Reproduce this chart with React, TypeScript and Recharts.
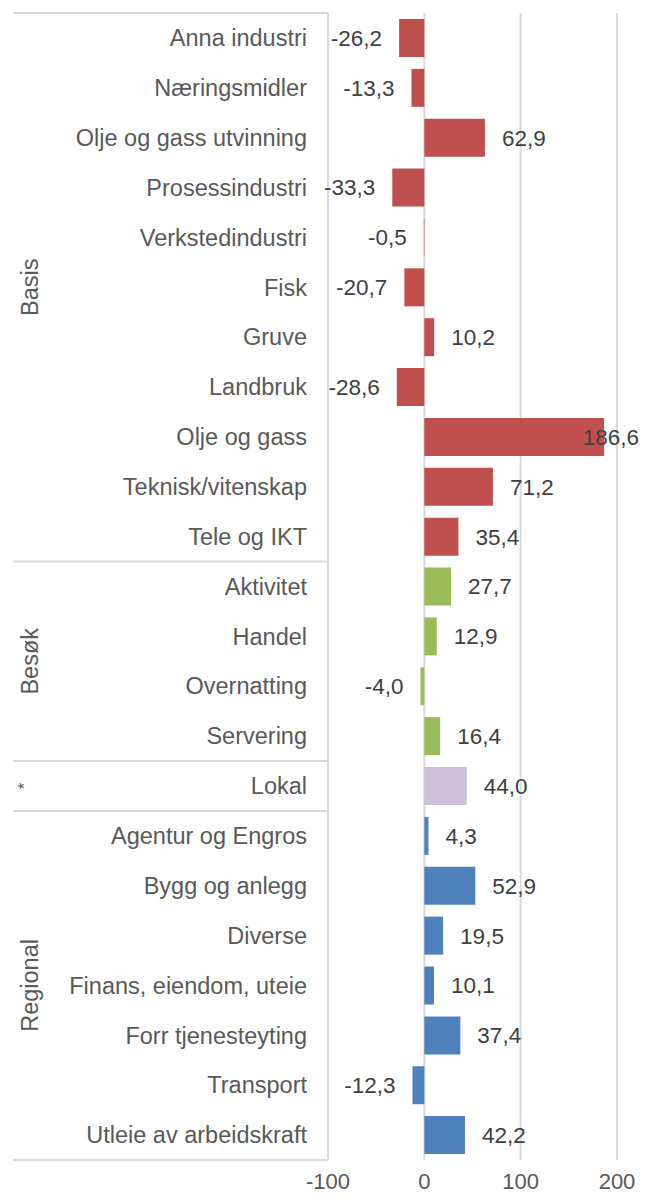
import { BarChart, Bar, XAxis, YAxis, CartesianGrid, Cell, LabelList } from 'recharts';

const categories = [
  'Anna industri',
  'Næringsmidler',
  'Olje og gass utvinning',
  'Prosessindustri',
  'Verkstedindustri',
  'Fisk',
  'Gruve',
  'Landbruk',
  'Olje og gass',
  'Teknisk/vitenskap',
  'Tele og IKT',
  'Aktivitet',
  'Handel',
  'Overnatting',
  'Servering',
  'Lokal',
  'Agentur og Engros',
  'Bygg og anlegg',
  'Diverse',
  'Finans, eiendom, uteie',
  'Forr tjenesteyting',
  'Transport',
  'Utleie av arbeidskraft',
];

const values = [
  -26.2, -13.3, 62.9, -33.3, -0.5, -20.7, 10.2, -28.6, 186.6, 71.2, 35.4,
  27.7, 12.9, -4.0, 16.4,
  44.0,
  4.3, 52.9, 19.5, 10.1, 37.4, -12.3, 42.2,
];

const groupNames = ['Basis', 'Besøk', '*', 'Regional'];
const groupSizes = [11, 4, 1, 7];
const groupColors = ['#C0504D', '#9BBB59', '#CCC1DA', '#4F81BD'];

const xTicks = [-100, 0, 100, 200];

const W = 647;
const H = 1198;
const TOP = 13;
const BOTTOM = 38;
const LEFT = 328;
const RIGHT = 30;
const FRAME_LEFT = 13;
const FONT = '"Liberation Sans", Arial, sans-serif';
const TEXT = '#595959';
const LABEL = '#404040';
const GRID = '#D9D9D9';
const CAT_SIZE = 23.5;
const VAL_SIZE = 22.5;
const TICK_SIZE = 22;

const groupOf = (i: number) => {
  let acc = 0;
  for (let g = 0; g < groupSizes.length; g++) {
    acc += groupSizes[g];
    if (i < acc) return g;
  }
  return groupSizes.length - 1;
};

const data = categories.map((name, i) => ({ name, value: values[i], group: groupOf(i) }));

const fmt = (v: number) => v.toFixed(1).replace('.', ',');

// rough Arial advance widths, used only to keep labels inside the chart
const textWidth = (s: string, size: number) =>
  s.split('').reduce((w, c) => w + (c === ',' ? 0.278 : c === '-' ? 0.333 : 0.556), 0) * size;

const CategoryTick = (props: any) => {
  const { y, payload } = props;
  return (
    <text x={LEFT - 21} y={y} dy="0.35em" textAnchor="end" fill={TEXT} fontSize={CAT_SIZE} fontFamily={FONT}>
      {payload.value}
    </text>
  );
};

const ValueTick = (props: any) => {
  const { x, y, payload } = props;
  return (
    <text x={x} y={y + 21} textAnchor="middle" fill={TEXT} fontSize={TICK_SIZE} fontFamily={FONT}>
      {payload.value}
    </text>
  );
};

const ValueLabel = (props: any) => {
  const { x, y, width, height, value } = props;
  const s = fmt(value);
  const w = textWidth(s, VAL_SIZE);
  const cy = y + height / 2;
  const gap = 17;
  if (value >= 0) {
    const end = Math.max(x, x + width);
    let start = end + gap;
    if (start + w > W - 8) start = W - 8 - w;
    return (
      <text x={start} y={cy} dy="0.35em" textAnchor="start" fill={LABEL} fontSize={VAL_SIZE} fontFamily={FONT}>
        {s}
      </text>
    );
  }
  const end = Math.min(x, x + width);
  let right = end - gap;
  if (right - w < LEFT - 4) right = LEFT - 4 + w;
  return (
    <text x={right} y={cy} dy="0.35em" textAnchor="end" fill={LABEL} fontSize={VAL_SIZE} fontFamily={FONT}>
      {s}
    </text>
  );
};

function GroupFrame() {
  const plotBottom = H - BOTTOM;
  const rowH = (plotBottom - TOP) / categories.length;
  const bounds: number[] = [0];
  groupSizes.forEach((n, g) => bounds.push(bounds[g] + n));
  return (
    <svg width={W} height={H} style={{ position: 'absolute', left: 0, top: 0, pointerEvents: 'none' }}>
      {bounds.map((b, i) => (
        <line key={i} x1={FRAME_LEFT} x2={LEFT} y1={TOP + b * rowH} y2={TOP + b * rowH} stroke={GRID} strokeWidth={2} />
      ))}
      {groupNames.map((name, g) => {
        const cy = TOP + ((bounds[g] + bounds[g + 1]) / 2) * rowH;
        const star = name === '*';
        const cx = star ? 24 : 30;
        return (
          <text
            key={name}
            x={cx}
            y={cy}
            dy="0.35em"
            textAnchor="middle"
            transform={`rotate(-90 ${cx} ${cy})`}
            fill={TEXT}
            fontSize={star ? 17 : CAT_SIZE}
            fontFamily={FONT}
          >
            {name}
          </text>
        );
      })}
    </svg>
  );
}

export default function App() {
  return (
    <div style={{ position: 'absolute', left: 0, top: 0, width: W, height: H, background: '#fff' }}>
      <BarChart
        width={W}
        height={H}
        data={data}
        layout="vertical"
        margin={{ top: TOP, right: RIGHT, bottom: 0, left: 0 }}
        barCategoryGap="12%"
      >
        <CartesianGrid horizontal={false} stroke={GRID} strokeWidth={2} />
        <XAxis
          type="number"
          domain={[-100, 200]}
          ticks={xTicks}
          axisLine={false}
          tickLine={false}
          height={BOTTOM}
          tick={<ValueTick />}
          interval={0}
        />
        <YAxis
          type="category"
          dataKey="name"
          width={LEFT}
          axisLine={false}
          tickLine={false}
          interval={0}
          tick={<CategoryTick />}
        />
        <Bar dataKey="value" isAnimationActive={false}>
          {data.map((d, i) => (
            <Cell key={i} fill={groupColors[d.group]} />
          ))}
          <LabelList dataKey="value" content={<ValueLabel />} />
        </Bar>
      </BarChart>
      <GroupFrame />
    </div>
  );
}
